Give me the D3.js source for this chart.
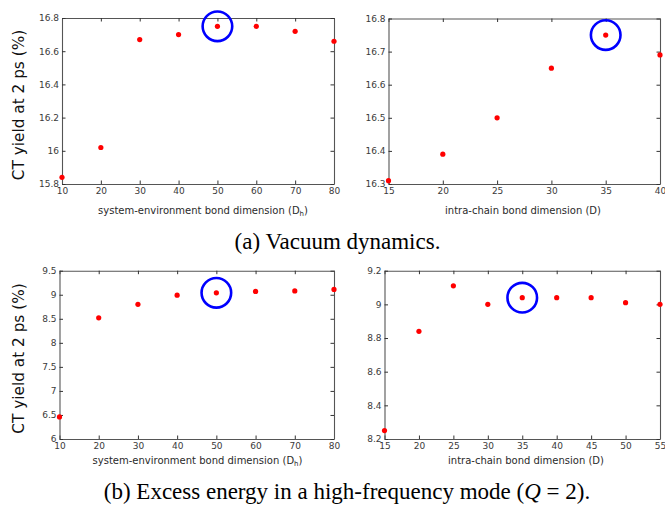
<!DOCTYPE html>
<html>
<head>
<meta charset="utf-8">
<script src="https://cdn.jsdelivr.net/npm/d3@7"></script>
<style>
  body { margin: 0; background: #fff; }
  text { font-family: "DejaVu Sans", sans-serif; }
  .cap { font-family: "Liberation Serif", "Times New Roman", serif; }
</style>
</head>
<body>
<svg id="fig" width="665" height="506"></svg>
<script>
// (a) Vacuum dynamics: CT yield at 2 ps versus bond dimensions
const dhValuesA = [10, 20, 30, 40, 50, 60, 70, 80];
const yieldByDhA = [15.84, 16.02, 16.67, 16.70, 16.75, 16.75, 16.72, 16.66];
const dValuesA = [15, 20, 25, 30, 35, 40];
const yieldByDA = [16.31, 16.39, 16.50, 16.65, 16.75, 16.69];

// (b) Excess energy in a high-frequency mode (Q = 2)
const dhValuesB = [10, 20, 30, 40, 50, 60, 70, 80];
const yieldByDhB = [6.46, 8.52, 8.80, 8.99, 9.04, 9.07, 9.08, 9.11];
const dValuesB = [15, 20, 25, 30, 35, 40, 45, 50, 55];
const yieldByDB = [8.25, 8.84, 9.11, 9.00, 9.04, 9.04, 9.04, 9.01, 9.00];

// bond dimensions used for production runs (circled)
const chosenDh = 50;
const chosenD = 35;

// tick values
const xTicksDh = [10, 20, 30, 40, 50, 60, 70, 80];
const xTicksDA = [15, 20, 25, 30, 35, 40];
const xTicksDB = [15, 20, 25, 30, 35, 40, 45, 50, 55];
const yTicksDhA = [15.8, 16, 16.2, 16.4, 16.6, 16.8];
const yTicksDA = [16.3, 16.4, 16.5, 16.6, 16.7, 16.8];
const yTicksDhB = [6, 6.5, 7, 7.5, 8, 8.5, 9, 9.5];
const yTicksDB = [8.2, 8.4, 8.6, 8.8, 9, 9.2];

const yLabel = "CT yield at 2 ps (%)";
const xLabelDh = ["system-environment bond dimension (D", "h", ")"];
const xLabelD = ["intra-chain bond dimension (D)"];
const captionA = "(a) Vacuum dynamics.";
const captionB = ["(b) Excess energy in a high-frequency mode (", "Q", " = 2)."];

const svg = d3.select("#fig");

function panel(cfg) {
  const x = d3.scaleLinear().domain(cfg.xDomain).range([cfg.x0, cfg.x1]);
  const y = d3.scaleLinear().domain(cfg.yDomain).range([cfg.y1, cfg.y0]);
  const g = svg.append("g");
  const tick = 3.5;
  const fmt = d => String(d);

  const styleAxis = sel => {
    sel.selectAll(".domain").attr("stroke", "#555").attr("stroke-width", 1.1);
    sel.selectAll(".tick line").attr("stroke", "#333").attr("stroke-width", 1);
    sel.selectAll(".tick text").attr("fill", "#3a3a3a")
      .style("font-family", "DejaVu Sans, sans-serif").style("font-size", "9px");
  };

  g.append("g").attr("transform", `translate(0,${cfg.y1})`)
    .call(d3.axisBottom(x).tickValues(cfg.xTicks).tickFormat(fmt)
      .tickSize(-tick).tickSizeOuter(0).tickPadding(3.5))
    .call(styleAxis);
  g.append("g").attr("transform", `translate(0,${cfg.y0})`)
    .call(d3.axisTop(x).tickValues(cfg.xTicks).tickFormat("")
      .tickSize(-tick).tickSizeOuter(0))
    .call(styleAxis);
  g.append("g").attr("transform", `translate(${cfg.x0},0)`)
    .call(d3.axisLeft(y).tickValues(cfg.yTicks).tickFormat(fmt)
      .tickSize(-tick).tickSizeOuter(0).tickPadding(3))
    .call(styleAxis);
  g.append("g").attr("transform", `translate(${cfg.x1},0)`)
    .call(d3.axisRight(y).tickValues(cfg.yTicks).tickFormat("")
      .tickSize(-tick).tickSizeOuter(0))
    .call(styleAxis);

  g.selectAll("circle.pt").data(cfg.xs)
    .join("circle").attr("class", "pt")
    .attr("cx", d => x(d))
    .attr("cy", (d, i) => y(cfg.ys[i]))
    .attr("r", 2.6)
    .attr("fill", "#ff0000");

  const ci = cfg.xs.indexOf(cfg.chosen);
  g.append("circle")
    .attr("cx", x(cfg.xs[ci]))
    .attr("cy", y(cfg.ys[ci]))
    .attr("r", 14.8)
    .attr("fill", "none")
    .attr("stroke", "#0000ff")
    .attr("stroke-width", 2.6);

  const xl = g.append("text")
    .attr("x", cfg.xLabelX).attr("y", cfg.xLabelY)
    .attr("text-anchor", "middle")
    .attr("fill", "#2a2a2a")
    .style("font-size", "10px");
  xl.append("tspan").text(cfg.xLabel[0]);
  if (cfg.xLabel.length > 1) {
    xl.append("tspan").attr("dy", 2.5).style("font-size", "7px").text(cfg.xLabel[1]);
    xl.append("tspan").attr("dy", -2.5).text(cfg.xLabel[2]);
  }

  if (cfg.yLabelY !== undefined) {
    g.append("text")
      .attr("transform", `translate(24,${cfg.yLabelY}) rotate(-90)`)
      .attr("text-anchor", "middle")
      .attr("fill", "#111")
      .style("font-size", "15.3px")
      .text(yLabel);
  }
}

panel({
  x0: 62, x1: 334, y0: 18, y1: 184,
  xDomain: [10, 80], yDomain: [15.8, 16.8],
  xTicks: xTicksDh, yTicks: yTicksDhA,
  xs: dhValuesA, ys: yieldByDhA, chosen: chosenDh,
  xLabel: xLabelDh, xLabelX: 203, xLabelY: 213.5, yLabelY: 105
});
panel({
  x0: 388.5, x1: 660, y0: 18.5, y1: 184,
  xDomain: [15, 40], yDomain: [16.3, 16.8],
  xTicks: xTicksDA, yTicks: yTicksDA,
  xs: dValuesA, ys: yieldByDA, chosen: chosenD,
  xLabel: xLabelD, xLabelX: 523, xLabelY: 213.5
});
panel({
  x0: 59.5, x1: 334, y0: 270.7, y1: 439,
  xDomain: [10, 80], yDomain: [6, 9.5],
  xTicks: xTicksDh, yTicks: yTicksDhB,
  xs: dhValuesB, ys: yieldByDhB, chosen: chosenDh,
  xLabel: xLabelDh, xLabelX: 197.5, xLabelY: 463.5, yLabelY: 358.5
});
panel({
  x0: 384.5, x1: 660, y0: 270.7, y1: 439,
  xDomain: [15, 55], yDomain: [8.2, 9.2],
  xTicks: xTicksDB, yTicks: yTicksDB,
  xs: dValuesB, ys: yieldByDB, chosen: chosenD,
  xLabel: xLabelD, xLabelX: 526, xLabelY: 464
});

// sub-figure captions
svg.append("text").attr("class", "cap")
  .attr("x", 337.5).attr("y", 249)
  .attr("text-anchor", "middle")
  .attr("fill", "#000")
  .style("font-size", "23px")
  .text(captionA);

const cb = svg.append("text").attr("class", "cap")
  .attr("x", 347).attr("y", 499)
  .attr("text-anchor", "middle")
  .attr("fill", "#000")
  .style("font-size", "23px");
cb.append("tspan").text(captionB[0]);
cb.append("tspan").style("font-style", "italic").text(captionB[1]);
cb.append("tspan").text(captionB[2]);
</script>
</body>
</html>
